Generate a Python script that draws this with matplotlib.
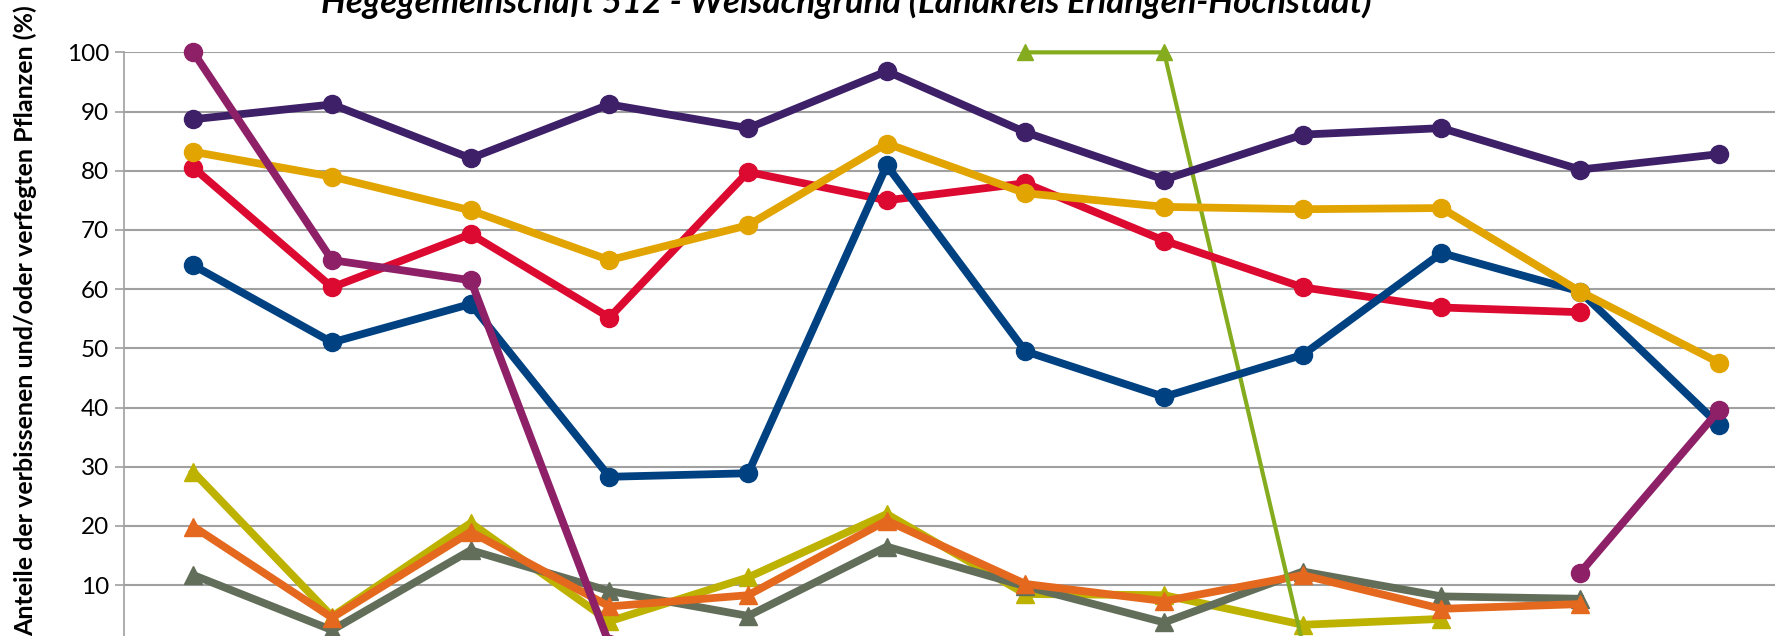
import numpy as np
import matplotlib.pyplot as plt

nan = np.nan

# Data (12 Aufnahmen, Werte in %)
x = np.arange(12)

dunkellila = [88.7, 91.2, 82.1, 91.2, 87.2, 96.8, 86.5, 78.5, 86.1, 87.2, 80.2, 82.8]
gold = [83.2, 79.0, 73.3, 64.9, 70.8, 84.6, 76.2, 73.9, 73.5, 73.7, 59.6, 47.6]
rot = [80.5, 60.3, 69.3, 55.2, 79.8, 75.0, 77.9, 68.2, 60.3, 56.9, 56.1, nan]
blau = [64.0, 51.0, 57.5, 28.3, 28.9, 80.9, 49.5, 41.8, 48.9, 66.1, 59.6, 37.1]
magenta = [100.0, 64.9, 61.5, 0.0, nan, nan, nan, nan, nan, nan, 12.1, 39.5]
gruen = [nan, nan, nan, nan, nan, nan, 100.0, 100.0, 0.0, nan, nan, nan]
oliv = [29.1, 4.7, 20.5, 3.9, 11.3, 22.0, 8.5, 8.3, 3.3, 4.3, nan, nan]
orange = [19.9, 4.5, 19.0, 6.4, 8.3, 20.9, 10.2, 7.3, 11.7, 6.0, 6.8, nan]
grau = [11.7, 2.4, 15.9, 9.0, 4.8, 16.5, 9.8, 3.7, 12.3, 8.1, 7.7, nan]

yticks = [10, 20, 30, 40, 50, 60, 70, 80, 90, 100]

plt.rcParams['font.family'] = ['Lato', 'DejaVu Sans']

fig = plt.figure(figsize=(17.75, 6.36), dpi=100)
ax = fig.add_axes([0.0699, -0.0131, 0.9375, 0.9308])

lw = 5.6
ms = 13
# triangles
ax.plot(x, oliv, color='#BDB200', lw=lw, marker='^', ms=ms, clip_on=False)
ax.plot(x, grau, color='#626E59', lw=lw, marker='^', ms=ms, clip_on=False)
ax.plot(x, orange, color='#E4691E', lw=lw, marker='^', ms=ms, clip_on=False)
ax.plot(x, gruen, color='#85AC1E', lw=3.0, marker='^', ms=12, clip_on=False)

# circles
ax.plot(x, rot, color='#DC0A30', lw=lw, marker='o', ms=ms, clip_on=False)
ax.plot(x, blau, color='#004182', lw=lw, marker='o', ms=ms, clip_on=False)
ax.plot(x, gold, color='#E2A400', lw=lw, marker='o', ms=ms, clip_on=False)
ax.plot(x, dunkellila, color='#3D2068', lw=lw, marker='o', ms=ms, clip_on=False)
ax.plot(x, magenta, color='#8E2068', lw=lw, marker='o', ms=ms, clip_on=False)

ax.set_xlim(-0.5, 11.5)
ax.set_ylim(0, 100)
ax.set_yticks(yticks)
ax.set_yticklabels([str(v) for v in yticks], fontsize=17.5)
ax.set_xticks([])
ax.yaxis.grid(True, color='#A0A0A0', lw=1.5)
ax.set_axisbelow(True)
ax.tick_params(axis='y', direction='out', length=6.2, width=1.2, color='#A0A0A0', pad=4.5)
for s in ['top', 'right', 'bottom']:
    ax.spines[s].set_visible(False)
ax.spines['left'].set_color('#A0A0A0')
ax.spines['left'].set_linewidth(1.2)

fig.text(846 / 1775, 1 - 13 / 636, 'Hegegemeinschaft 512 - Weisachgrund (Landkreis Erlangen-Höchstadt)',
         ha='center', va='baseline', fontsize=25, fontweight='bold', fontstyle='italic')
fig.text(25 / 1775, 1 - 321 / 636, 'Anteile der verbissenen und/oder verfegten Pflanzen (%)',
         ha='center', va='center', rotation=90, fontsize=18, fontweight='bold')

fig.savefig('out.png', dpi=100)
